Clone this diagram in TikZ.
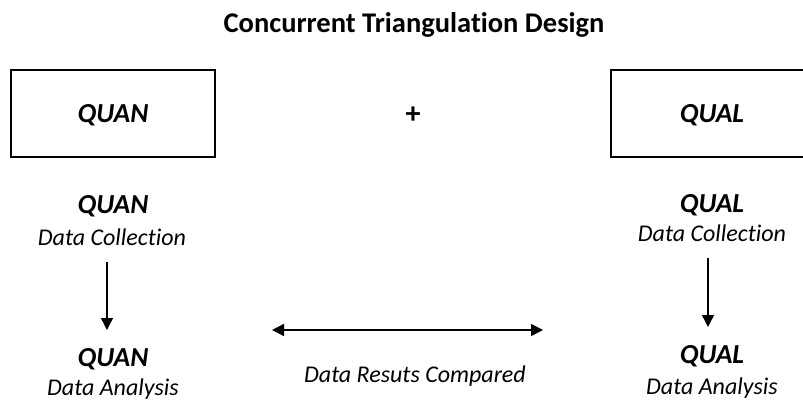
\documentclass[tikz,border=0pt]{standalone}
\usepackage{fontspec}
\setmainfont{Carlito}[Ligatures={NoCommon}]
\usetikzlibrary{arrows.meta}
\begin{document}
\begin{tikzpicture}[x=1pt,y=-1pt,
  every node/.style={inner sep=0pt,outer sep=0pt},
  phase/.style={draw,line width=1.4pt,minimum width=204pt,minimum height=87pt},
  strand/.style={anchor=base,font=\fontsize{27.5}{30}\selectfont\bfseries\itshape},
  stage/.style={anchor=base,font=\fontsize{24}{28}\selectfont\itshape},
  flow/.style={line width=1.4pt,-{Triangle[width=12pt,length=12pt]}},
  both/.style={line width=1.4pt,{Triangle[width=12pt,length=12pt]}-{Triangle[width=12pt,length=12pt]}}]
\useasboundingbox (0,0) rectangle (803,401);
\fill[white] (0,0) rectangle (803,401);

\node[anchor=base,font=\fontsize{28.5}{32}\selectfont\bfseries] (title) at (414,33) {Concurrent Triangulation Design};

% the two phase boxes (the right one runs off the page)
\node[phase] (quanbox) at (113,113.5) {};
\node[phase] (qualbox) at (713,113.5) {};
\node[strand] (quanhead) at (113,123) {QUAN};
\node[strand] (qualhead) at (712,123) {QUAL};
\node[font=\fontsize{30}{32}\selectfont\bfseries] (plus) at (413,115) {+};

% quantitative strand
\node[strand] (quan1) at (113,213) {QUAN};
\node[stage] (quandc) at (112,245) {Data Collection};
\node[strand] (quan2) at (113,366) {QUAN};
\node[stage] (quanda) at (113,395) {Data Analysis};

% qualitative strand
\node[strand] (qual1) at (712,212) {QUAL};
\node[stage] (qualdc) at (712,241) {Data Collection};
\node[strand] (qual2) at (712,363) {QUAL};
\node[stage] (qualda) at (712,394) {Data Analysis};

% arrow ends
\coordinate (quanfrom) at (107,262);
\coordinate (quanto) at (107,330);
\coordinate (qualfrom) at (708,258);
\coordinate (qualto) at (708,327);
\coordinate (cmpL) at (272,330);
\coordinate (cmpR) at (543,330);
\node[stage] (cmp) at (415,382) {Data Resuts Compared};

\draw[flow] (quanfrom) -- (quanto);
\draw[flow] (qualfrom) -- (qualto);
\draw[both] (cmpL) -- (cmpR);
\end{tikzpicture}
\end{document}
